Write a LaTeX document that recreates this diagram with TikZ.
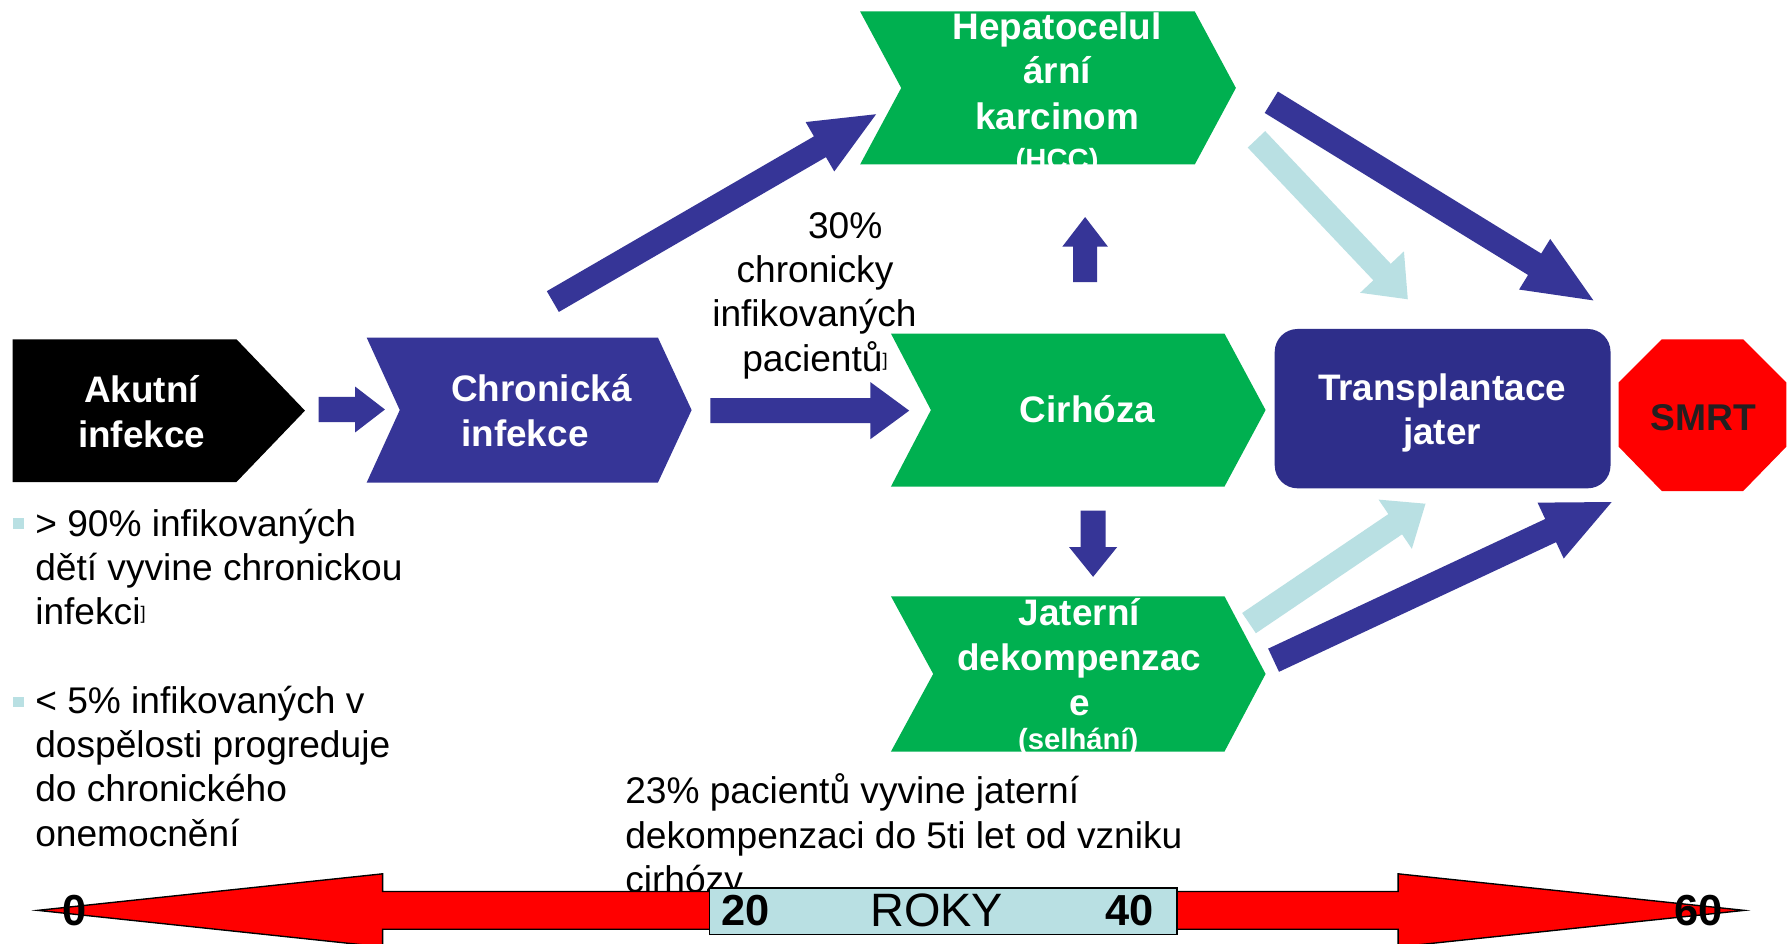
\documentclass[tikz,border=0pt]{standalone}
\usepackage{fontspec}
\setmainfont{Liberation Sans}
\usetikzlibrary{calc}
\definecolor{cNavy}{RGB}{54,53,151}
\definecolor{cDark}{RGB}{46,46,138}
\definecolor{cLight}{RGB}{185,224,227}
\definecolor{cGreen}{RGB}{0,176,80}
\definecolor{cRed}{RGB}{255,0,0}
\definecolor{cSmrt}{RGB}{35,31,32}
\newcommand{\blockarrow}[6]{%
  \coordinate (hb) at ($(#3)!#6!(#2)$);
  \fill[#1] ($(#2)!#4!90:(#3)$) -- ($(hb)!#4!90:(#3)$) -- ($(hb)!#5!90:(#3)$) -- (#3)
    -- ($(hb)!#5!-90:(#3)$) -- ($(hb)!#4!-90:(#3)$) -- ($(#2)!#4!-90:(#3)$) -- cycle;
}
\newcommand{\refmark}{\raisebox{2.5pt}{\fontsize{8}{8}\selectfont ]}}
\tikzset{
  lblw/.style={text=white, font=\fontsize{16.15}{19.5}\selectfont\bfseries, inner sep=0pt, anchor=base},
  lblsmall/.style={text=white, font=\fontsize{12.8}{14}\selectfont\bfseries, inner sep=0pt, anchor=base},
  txt/.style={text=black, font=\fontsize{16.25}{19.5}\selectfont, inner sep=0pt, anchor=base west},
  txtc/.style={txt, anchor=base},
  num/.style={text=black, font=\fontsize{19}{20}\selectfont\bfseries, inner sep=0pt},
  chev/.style={fill=cGreen},
}
\begin{document}
\begin{tikzpicture}[x=0.5pt,y=-0.5pt]
\useasboundingbox (0,0) rectangle (1568,826);
\fill[white] (0,0) rectangle (1568,826);

% ---- shapes ----
\fill[black] (11,297) -- (207,297) -- (267,359.5) -- (207,422) -- (11,422) -- cycle;
\fill[cNavy] (321,295.5) -- (576,295.5) -- (605.5,359) -- (576,422.5) -- (321,422.5) -- (350,359) -- cycle;
\fill[chev] (753,10) -- (1046,10) -- (1082,77) -- (1046,144) -- (753,144) -- (789,77) -- cycle;
\fill[chev] (780,292) -- (1072,292) -- (1108,359) -- (1072,426) -- (780,426) -- (815,359) -- cycle;
\fill[chev] (780,522) -- (1072,522) -- (1108,590) -- (1072,658) -- (780,658) -- (817,590) -- cycle;
\fill[cDark, rounded corners=10pt] (1116,288) rectangle (1410,427.5);
\fill[cRed] (1455,297) -- (1526,297) -- (1564,335) -- (1564,391) -- (1526,430) -- (1455,430) -- (1417,391) -- (1417,335) -- cycle;

% ---- shape labels ----
\node[lblw] (ak1) at (124,352) {Akutní};
\node[lblw] (ak2) at (124,391.5) {infekce};
\node[lblw] (ch1) at (474,351.7) {Chronická};
\node[lblw] (ch2) at (459.6,391) {infekce};
\node[lblw] (hc1) at (925.5,34.5) {Hepatocelul};
\node[lblw] (hc2) at (925.5,73.5) {ární};
\node[lblw] (hc3) at (925.5,113) {karcinom};
\node[lblsmall] (hc4) at (925.5,148) {(HCC)};
\node[lblw] (ci1) at (952,370) {Cirhóza};
\node[lblw] (ja1) at (945,548) {Jaterní};
\node[lblw] (ja2) at (945,587) {dekompenzac};
\node[lblw] (ja3) at (945,626) {e};
\node[lblsmall] (ja4) at (944,656) {(selhání)};
\node[lblw] (tr1) at (1262.5,350.5) {Transplantace};
\node[lblw] (tr2) at (1262.5,389.5) {jater};
\node[lblw, text=cSmrt, font=\fontsize{16.3}{19}\selectfont\bfseries] (smrt) at (1491,376.5) {SMRT};

% ---- block arrows ----
\coordinate (a1t) at (279,358.5);   \coordinate (a1h) at (337,358.5);
\coordinate (a2t) at (622,359.5);   \coordinate (a2h) at (796,359.5);
\coordinate (a3t) at (484,264);     \coordinate (a3h) at (767,100);
\coordinate (a4t) at (950,247);     \coordinate (a4h) at (950,190);
\coordinate (a5t) at (957,447);     \coordinate (a5h) at (957,505);
\coordinate (a6t) at (1113,89.5);   \coordinate (a6h) at (1395,263);
\coordinate (a7t) at (1100,122);    \coordinate (a7h) at (1232.5,262);
\coordinate (a8t) at (1093.5,545.5);\coordinate (a8h) at (1248,441);
\coordinate (a9t) at (1115,578);    \coordinate (a9h) at (1411,439.5);
\blockarrow{cNavy}{a1t}{a1h}{5.5pt}{10pt}{13pt}
\blockarrow{cNavy}{a2t}{a2h}{5.5pt}{12.5pt}{17pt}
\blockarrow{cNavy}{a3t}{a3h}{5.25pt}{12.5pt}{28.4pt}
\blockarrow{cNavy}{a4t}{a4h}{5.25pt}{10pt}{13pt}
\blockarrow{cNavy}{a5t}{a5h}{5.5pt}{10.5pt}{13pt}
\blockarrow{cNavy}{a6t}{a6h}{5.5pt}{13pt}{30.2pt}
\blockarrow{cLight}{a7t}{a7h}{5.25pt}{13.2pt}{16.4pt}
\blockarrow{cLight}{a8t}{a8h}{5.35pt}{13pt}{16pt}
\blockarrow{cNavy}{a9t}{a9h}{5.6pt}{13.5pt}{29.5pt}

% ---- texts ----
\node[txtc] (p1) at (740,208.5) {30\%};
\node[txtc] (p2) at (713.5,247) {chronicky};
\node[txtc] (p3) at (713,286) {infikovaných};
\node[txtc] (p4) at (713.5,325.5) {pacientů\refmark};

\fill[cLight] (11,453.5) rectangle (21,463);
\fill[cLight] (11,610) rectangle (21,619);
\node[txt] (b1) at (30.5,470) {> 90\% infikovaných};
\node[txt] (b2) at (30.5,508.5) {dětí vyvine chronickou};
\node[txt] (b3) at (30.5,547) {infekci\refmark};
\node[txt] (b4) at (30.5,624.5) {< 5\% infikovaných v};
\node[txt] (b5) at (30.5,663.5) {dospělosti progreduje};
\node[txt] (b6) at (30.5,702) {do chronického};
\node[txt] (b7) at (30.5,741) {onemocnění};

\node[txt] (d1) at (547,703.5) {23\% pacientů vyvine jaterní};
\node[txt] (d2) at (547,742.5) {dekompenzaci do 5ti let od vzniku};
\node[txt] (d3) at (547,781) {cirhózy};

% ---- time axis ----
\filldraw[fill=cRed, draw=black, line width=0.6pt]
  (33,797) -- (335,765) -- (335,780.5) -- (1224,780.5) -- (1224,765) -- (1527,797)
  -- (1224,829) -- (1224,813.5) -- (335,813.5) -- (335,829) -- cycle;
\node[draw=black, fill=cLight, line width=0.6pt, minimum width=204.75pt, minimum height=20.25pt, inner sep=0pt] (roky) at (825.75,797.75) {};
\node[text=black, font=\fontsize{20.5}{22}\selectfont, inner sep=0pt] (rokyt) at (820,797) {ROKY};
\node[num] (n0) at (65,797) {0};
\node[num] (n20) at (653,797) {20};
\node[num] (n40) at (989,797) {40};
\node[num] (n60) at (1487,797) {60};
\end{tikzpicture}
\end{document}
